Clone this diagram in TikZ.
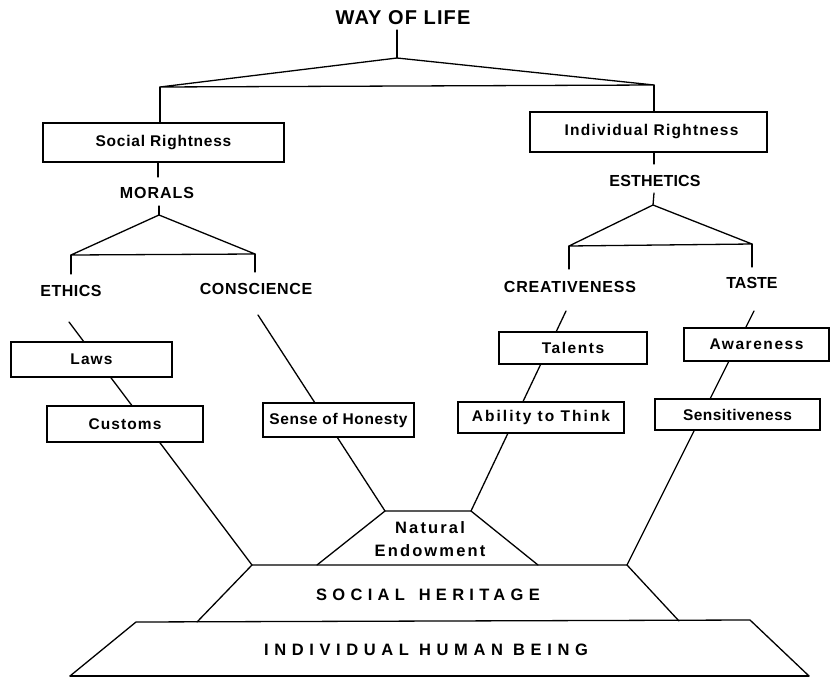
\documentclass[tikz,border=0pt]{standalone}
\usepackage{fontspec}
\setmainfont{Liberation Sans}
\newcommand{\lsp}[1]{\addfontfeatures{LetterSpace=#1}}
\tikzset{
  ln/.style={line width=1.3pt, line cap=round, line join=round},
  boxlab/.style={draw, line width=1.3pt, fill=white, inner sep=0pt,
    font=\fontsize{15.5}{18}\selectfont\bfseries},
  caplab/.style={inner sep=0pt, font=\fontsize{16}{19}\selectfont\bfseries},
  baselab/.style={inner sep=0pt, font=\fontsize{16.5}{19}\selectfont\bfseries}
}
\begin{document}
\begin{tikzpicture}[x=1pt,y=-1pt]
\useasboundingbox (0,0) rectangle (830,677);

% ---------- coordinates ----------
\coordinate (wayB) at (397,30);
\coordinate (a1) at (397,58);
\coordinate (L1) at (160,87);
\coordinate (R1) at (654,85);
\coordinate (m0) at (158,177);
\coordinate (m1) at (159,206);
\coordinate (a2) at (159,215);
\coordinate (L2) at (71,255);
\coordinate (R2) at (255,254);
\coordinate (e0) at (71,274);
\coordinate (c0) at (255,272);
\coordinate (s0) at (654,164);
\coordinate (s1) at (654,193);
\coordinate (a3) at (653,205);
\coordinate (L3) at (569,246);
\coordinate (R3) at (752,244);
\coordinate (cr0) at (569,269);
\coordinate (t0) at (752,267);
% diagonal starts
\coordinate (d1) at (69,322);
\coordinate (d2) at (258,315);
\coordinate (d3) at (566,311);
\coordinate (d4) at (754,311);
% trapezoids
\coordinate (ne1) at (385,511);
\coordinate (ne2) at (471,511);
\coordinate (ne3) at (538,565);
\coordinate (ne4) at (317,565);
\coordinate (sh1) at (252,565);
\coordinate (sh2) at (627,565);
\coordinate (sh3) at (679,621);
\coordinate (sh4) at (197,622);
\coordinate (ih1) at (136,622);
\coordinate (ih2) at (750,620);
\coordinate (ih3) at (809,676);
\coordinate (ih4) at (70,676);

% ---------- diagonal connectors (behind boxes) ----------
\draw[ln] (d1) -- (sh1);
\draw[ln] (d2) -- (ne1);
\draw[ln] (d3) -- (ne2);
\draw[ln] (d4) -- (sh2);

% ---------- trapezoids ----------
\draw[ln] (ne4) -- (ne1) -- (ne2) -- (ne3);
\draw[ln] (sh4) -- (sh1) -- (sh2) -- (sh3);
\draw[ln] (ih4) -- (ih1) -- (ih2) -- (ih3);
\draw[ln] (ih4) -- (ih3);

% ---------- text labels ----------
\node[caplab, font=\fontsize{20}{24}\selectfont\bfseries] (way) at (403,18) {\lsp{5.5}WAY OF LIFE};
\node[caplab] (morals) at (157,193) {\lsp{6}MORALS};
\node[caplab] (esth) at (655,181) {\lsp{1}ESTHETICS};
\node[caplab] (ethics) at (71,291) {\lsp{3}ETHICS};
\node[caplab] (consc) at (256,289) {\lsp{4}CONSCIENCE};
\node[caplab] (creat) at (570,287) {\lsp{5}CREATIVENESS};
\node[caplab] (taste) at (752,283) {\lsp{0}TASTE};

% ---------- boxes ----------
\node[boxlab, minimum width=241pt, minimum height=39pt] (socialR) at (163.5,142.5) {\lsp{5}Social Rightness\hspace{10pt}};
\node[boxlab, minimum width=237pt, minimum height=40pt] (indivR) at (648.5,132) {\lsp{8}\hspace{6pt}Individual Rightness};
\node[boxlab, minimum width=161pt, minimum height=35pt] (laws) at (91.5,359.5) {\lsp{7}Laws};
\node[boxlab, minimum width=156pt, minimum height=36pt] (customs) at (125,424) {\lsp{7}Customs};
\node[boxlab, minimum width=151pt, minimum height=34pt] (honesty) at (338.5,420) {\lsp{4}Sense of Honesty};
\node[boxlab, minimum width=148pt, minimum height=32pt] (talents) at (573,348) {\lsp{10}Talents\hspace{6pt}};
\node[boxlab, minimum width=166pt, minimum height=31pt] (ability) at (541,417.5) {\lsp{13}Ability to Think};
\node[boxlab, minimum width=145pt, minimum height=33pt] (aware) at (756.5,344.5) {\lsp{10}Awareness};
\node[boxlab, minimum width=165pt, minimum height=31pt] (sensit) at (737.5,414.5) {\lsp{3}Sensitiveness\hspace{8pt}};

% ---------- base labels ----------
\node[baselab] (natural) at (430,528) {\lsp{13}Natural};
\node[baselab] (endow) at (430,551) {\lsp{13}Endowment};
\node[baselab] (heritage) at (428,595) {\lsp{32}SOCIAL\hspace{4pt} HERITAGE};
\node[baselab] (human) at (426,650) {\lsp{34}INDIVIDUAL HUMAN BEING};

% ---------- tree connectors ----------
\draw[ln] (wayB) -- (a1);
\draw[ln] (L1) -- (a1) -- (R1) -- cycle;
\draw[ln] (L1) -- (L1 |- socialR.north);
\draw[ln] (R1) -- (R1 |- indivR.north);
\draw[ln] (m0 |- socialR.south) -- (m0);
\draw[ln] (m1) -- (a2);
\draw[ln] (L2) -- (a2) -- (R2) -- cycle;
\draw[ln] (L2) -- (e0);
\draw[ln] (R2) -- (c0);
\draw[ln] (s0 |- indivR.south) -- (s0);
\draw[ln] (s1) -- (a3);
\draw[ln] (L3) -- (a3) -- (R3) -- cycle;
\draw[ln] (L3) -- (cr0);
\draw[ln] (R3) -- (t0);
\end{tikzpicture}
\end{document}
